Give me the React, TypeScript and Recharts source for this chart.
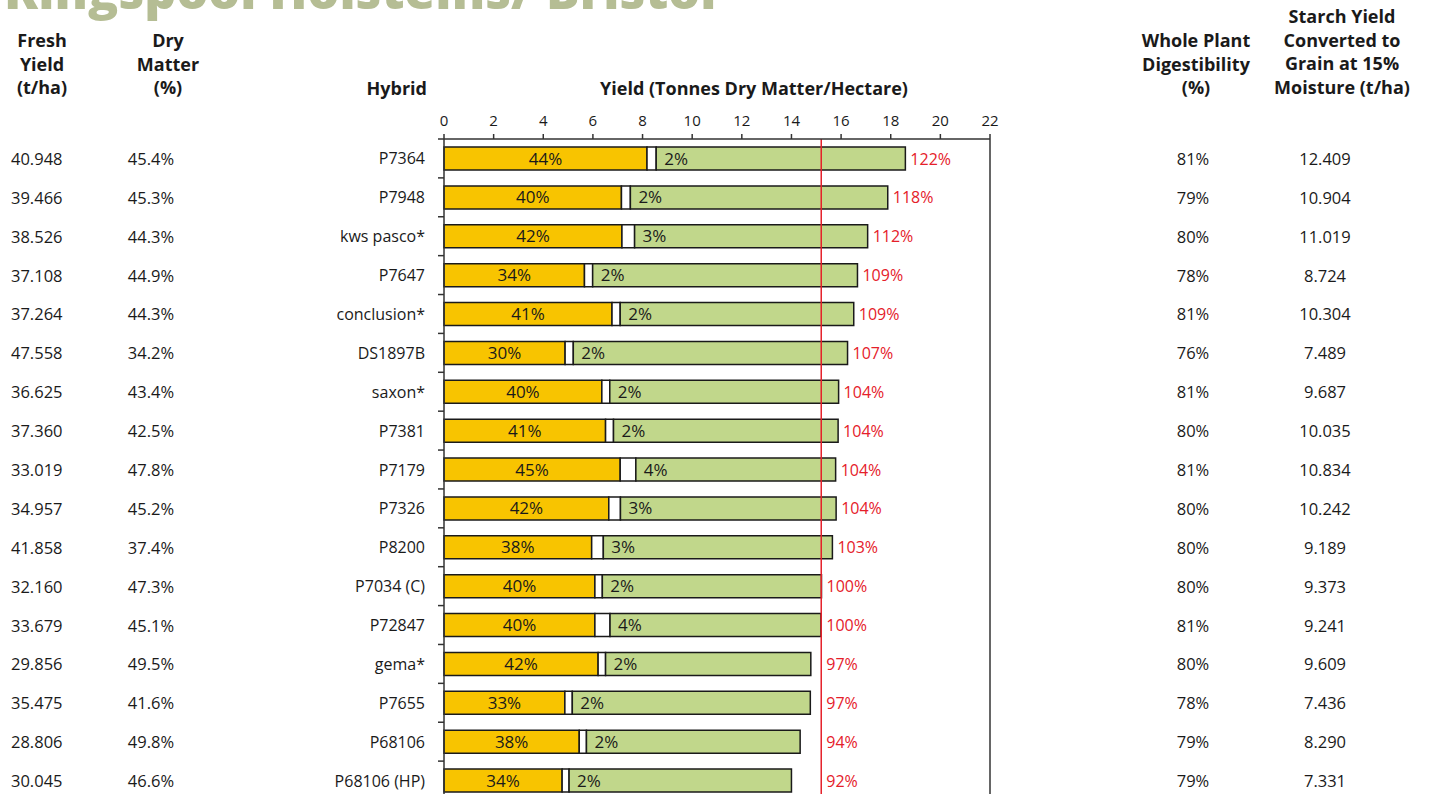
import React from "react";
import {
  BarChart,
  Bar,
  XAxis,
  YAxis,
  ReferenceLine,
  LabelList,
} from "recharts";

// rows, top to bottom
const HYBRIDS = [
  "P7364", "P7948", "kws pasco*", "P7647", "conclusion*", "DS1897B", "saxon*", "P7381",
  "P7179", "P7326", "P8200", "P7034 (C)", "P72847", "gema*", "P7655", "P68106", "P68106 (HP)",
];
const FRESH_YIELD = [
  "40.948", "39.466", "38.526", "37.108", "37.264", "47.558", "36.625", "37.360",
  "33.019", "34.957", "41.858", "32.160", "33.679", "29.856", "35.475", "28.806", "30.045",
];
const DRY_MATTER = [
  "45.4%", "45.3%", "44.3%", "44.9%", "44.3%", "34.2%", "43.4%", "42.5%",
  "47.8%", "45.2%", "37.4%", "47.3%", "45.1%", "49.5%", "41.6%", "49.8%", "46.6%",
];
// yield split (t DM/ha): starch, sugar, rest of plant
const STARCH_T = [8.18, 7.15, 7.17, 5.66, 6.77, 4.88, 6.36, 6.51, 7.1, 6.64, 5.95, 6.08, 6.08, 6.21, 4.87, 5.45, 4.76];
const SUGAR_T = [0.37, 0.36, 0.51, 0.33, 0.33, 0.33, 0.32, 0.32, 0.63, 0.47, 0.47, 0.3, 0.61, 0.3, 0.3, 0.29, 0.28];
const OTHER_T = [10.04, 10.37, 9.39, 10.67, 9.41, 11.05, 9.22, 9.05, 8.05, 8.69, 9.23, 8.83, 8.5, 8.27, 9.59, 8.61, 8.96];
const STARCH_PCT = ["44%", "40%", "42%", "34%", "41%", "30%", "40%", "41%", "45%", "42%", "38%", "40%", "40%", "42%", "33%", "38%", "34%"];
const SUGAR_PCT = ["2%", "2%", "3%", "2%", "2%", "2%", "2%", "2%", "4%", "3%", "3%", "2%", "4%", "2%", "2%", "2%", "2%"];
const REL_YIELD = ["122%", "118%", "112%", "109%", "109%", "107%", "104%", "104%", "104%", "104%", "103%", "100%", "100%", "97%", "97%", "94%", "92%"];
const DIGEST = ["81%", "79%", "80%", "78%", "81%", "76%", "81%", "80%", "81%", "80%", "80%", "80%", "81%", "80%", "78%", "79%", "79%"];
const STARCH_GRAIN = [
  "12.409", "10.904", "11.019", "8.724", "10.304", "7.489", "9.687", "10.035",
  "10.834", "10.242", "9.189", "9.373", "9.241", "9.609", "7.436", "8.290", "7.331",
];
const CONTROL_MEAN = 15.2;
const X_TICKS = [0, 2, 4, 6, 8, 10, 12, 14, 16, 18, 20, 22];

const W = 1430;
const H = 800;
const PLOT_LEFT = 444;
const PLOT_RIGHT = 990;
const PLOT_TOP = 139;
const X_MAX = 22;
const BAND = (H - PLOT_TOP) / HYBRIDS.length;

const INK = "#1a1a1a";
const AXIS = "#333";
const RED = "#e5202a";
const YELLOW = "#f8c400";
const GREEN = "#c1d78b";

const data = HYBRIDS.map((h, i) => ({
  hybrid: h,
  starch: STARCH_T[i],
  sugar: SUGAR_T[i],
  other: OTHER_T[i],
  starchLabel: STARCH_PCT[i],
  sugarLabel: SUGAR_PCT[i],
  relLabel: REL_YIELD[i],
}));

function RowTick(props: any) {
  const { y, payload } = props;
  const i = HYBRIDS.indexOf(payload.value);
  const num = { fontSize: 16.5, fill: INK, dominantBaseline: "central" as const };
  return (
    <g>
      <line x1={PLOT_LEFT - 6} x2={PLOT_LEFT} y1={y - BAND / 2} y2={y - BAND / 2} stroke={AXIS} strokeWidth={1.5} />
      <text x={11} y={y} textAnchor="start" {...num}>{FRESH_YIELD[i]}</text>
      <text x={151} y={y} textAnchor="middle" {...num}>{DRY_MATTER[i]}</text>
      <text x={425} y={y} textAnchor="end" {...num} fontSize={16}>{payload.value}</text>
      <text x={1193} y={y} textAnchor="middle" {...num}>{DIGEST[i]}</text>
      <text x={1325} y={y} textAnchor="middle" {...num}>{STARCH_GRAIN[i]}</text>
    </g>
  );
}

function RelLabel(props: any) {
  const { x, y, width, height, value } = props;
  const lineX = PLOT_LEFT + (CONTROL_MEAN / X_MAX) * (PLOT_RIGHT - PLOT_LEFT);
  const tx = Math.max(x + width, lineX) + 5;
  return (
    <text x={tx} y={y + height / 2} fill={RED} fontSize={16} dominantBaseline="central">
      {value}
    </text>
  );
}

function Header({ center, top, lines }: { center: number; top: number; lines: string[] }) {
  return (
    <div
      style={{
        position: "absolute",
        left: center - 200,
        width: 400,
        top,
        textAlign: "center",
        fontWeight: 700,
        fontSize: 18,
        lineHeight: "23.5px",
        color: INK,
        whiteSpace: "nowrap",
      }}
    >
      {lines.map((l) => (
        <div key={l}>{l}</div>
      ))}
    </div>
  );
}

export default function App() {
  return (
    <div
      style={{
        position: "absolute",
        left: 0,
        top: 0,
        width: W,
        height: 794,
        overflow: "hidden",
        background: "#fff",
        fontFamily: "'Open Sans', sans-serif",
      }}
    >
      <div
        style={{
          position: "absolute",
          left: 4,
          top: -35,
          fontSize: 50,
          fontWeight: 800,
          lineHeight: "50px",
          color: "#b5bd94",
          whiteSpace: "nowrap",
        }}
      >
        Kingspool Holsteins/ Bristol
      </div>
      <Header center={42} top={29} lines={["Fresh", "Yield", "(t/ha)"]} />
      <Header center={168} top={29} lines={["Dry", "Matter", "(%)"]} />
      <div
        style={{
          position: "absolute",
          right: W - 427,
          top: 77,
          fontWeight: 700,
          fontSize: 18,
          lineHeight: "23.5px",
          color: INK,
        }}
      >
        Hybrid
      </div>
      <Header center={754} top={77} lines={["Yield (Tonnes Dry Matter/Hectare)"]} />
      <Header center={1196} top={29} lines={["Whole Plant", "Digestibility", "(%)"]} />
      <Header
        center={1342}
        top={5}
        lines={["Starch Yield", "Converted to", "Grain at 15%", "Moisture (t/ha)"]}
      />
      <div style={{ position: "absolute", left: 0, top: 0 }}>
        <BarChart
          width={W}
          height={H}
          data={data}
          layout="vertical"
          margin={{ top: PLOT_TOP - 30, right: W - PLOT_RIGHT, bottom: 0, left: 0 }}
          barSize={23}
        >
          <XAxis
            type="number"
            orientation="top"
            domain={[0, X_MAX]}
            ticks={X_TICKS}
            height={30}
            tickSize={5}
            tickMargin={8}
            tick={{ fill: INK, fontSize: 15 }}
            axisLine={{ stroke: AXIS, strokeWidth: 1.5 }}
            tickLine={{ stroke: AXIS, strokeWidth: 1.5 }}
          />
          <YAxis
            type="category"
            dataKey="hybrid"
            width={PLOT_LEFT}
            tick={RowTick}
            tickLine={false}
            axisLine={{ stroke: AXIS, strokeWidth: 1.5 }}
            interval={0}
          />
          <Bar dataKey="starch" stackId="y" fill={YELLOW} stroke={INK} strokeWidth={1.5} isAnimationActive={false}>
            <LabelList dataKey="starchLabel" position="center" fill={INK} fontSize={17} />
          </Bar>
          <Bar dataKey="sugar" stackId="y" fill="#fff" stroke={INK} strokeWidth={1.5} isAnimationActive={false} />
          <Bar dataKey="other" stackId="y" fill={GREEN} stroke={INK} strokeWidth={1.5} isAnimationActive={false}>
            <LabelList dataKey="sugarLabel" position="insideLeft" offset={8} fill={INK} fontSize={17} />
            <LabelList dataKey="relLabel" content={RelLabel} />
          </Bar>
          <ReferenceLine x={CONTROL_MEAN} stroke={RED} strokeWidth={1.5} />
          <ReferenceLine x={X_MAX} stroke={AXIS} strokeWidth={1.5} />
        </BarChart>
      </div>
    </div>
  );
}
